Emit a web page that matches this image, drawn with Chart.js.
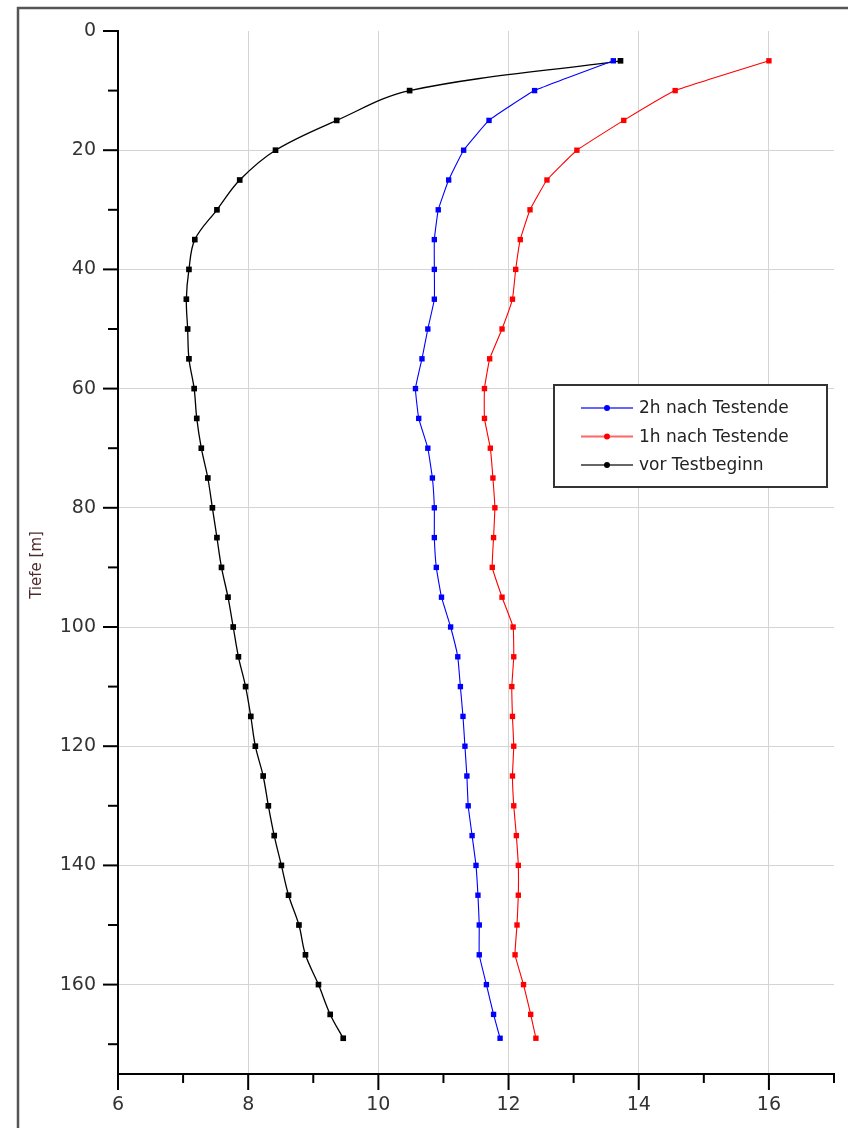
<!DOCTYPE html>
<html>
<head>
<meta charset="utf-8">
<script src="https://cdn.jsdelivr.net/npm/chart.js@4/dist/chart.umd.min.js"></script>
<style>
  html, body { margin: 0; padding: 0; background: #fff; }
  #wrap { width: 848px; height: 1128px; position: relative; }
</style>
</head>
<body>
<div id="wrap"><canvas id="c" width="848" height="1128"></canvas></div>
<script>
// ---- data ----
const depths = [5,10,15,20,25,30,35,40,45,50,55,60,65,70,75,80,85,90,95,100,105,110,115,120,125,130,135,140,145,150,155,160,165,169];
const seriesLabels = ['2h nach Testende', '1h nach Testende', 'vor Testbeginn'];
const temp2hNach = [13.61,12.40,11.70,11.31,11.08,10.92,10.86,10.86,10.86,10.76,10.67,10.57,10.62,10.76,10.83,10.86,10.86,10.89,10.97,11.11,11.22,11.26,11.30,11.33,11.36,11.38,11.44,11.50,11.53,11.55,11.55,11.66,11.77,11.87];
const temp1hNach = [16.00,14.56,13.77,13.05,12.59,12.33,12.18,12.11,12.06,11.90,11.71,11.63,11.63,11.72,11.76,11.79,11.77,11.75,11.90,12.07,12.08,12.05,12.06,12.08,12.06,12.08,12.12,12.15,12.15,12.13,12.10,12.23,12.34,12.42];
const tempVorTest = [13.72,10.48,9.36,8.42,7.87,7.52,7.18,7.09,7.05,7.07,7.09,7.17,7.21,7.28,7.38,7.45,7.52,7.59,7.69,7.77,7.85,7.96,8.04,8.11,8.23,8.31,8.40,8.51,8.62,8.78,8.88,9.08,9.26,9.46];
const xTickLabels = [6,8,10,12,14,16];
const yTickLabels = [0,20,40,60,80,100,120,140,160];
const yTitle = 'Tiefe [m]';

const toPts = arr => arr.map((v, i) => ({ x: v, y: depths[i] }));
const colors = ['#0000ff', '#ff0000', '#000000'];
const series = [temp2hNach, temp1hNach, tempVorTest];

const datasets = series.map((s, i) => ({
  label: seriesLabels[i],
  data: toPts(s),
  showLine: true,
  borderColor: colors[i],
  backgroundColor: colors[i],
  borderWidth: i === 2 ? 1.3 : 1.1,
  pointStyle: 'rect',
  pointRadius: i === 2 ? 4 : 3.8,
  pointBorderWidth: 0,
  tension: i === 2 ? 0.35 : 0.1
}));

const FONT = '"DejaVu Sans", "Liberation Sans", sans-serif';

const decor = {
  id: 'decor',
  beforeDraw(chart) {
    const ctx = chart.ctx;
    ctx.save();
    ctx.fillStyle = '#fff';
    ctx.fillRect(0, 0, chart.width, chart.height);
    ctx.strokeStyle = '#555';
    ctx.lineWidth = 2.5;
    ctx.strokeRect(18, 8, 1000, 1300);
    ctx.restore();
  },
  afterDraw(chart) {
    const ctx = chart.ctx;
    const xs = chart.scales.x, ys = chart.scales.y;
    const area = chart.chartArea;
    ctx.save();
    // tick marks
    ctx.strokeStyle = '#000';
    ctx.lineWidth = 2;
    for (let v = 6; v <= 17; v++) {
      const px = xs.getPixelForValue(v);
      const len = (v % 2 === 0) ? 16 : 9;
      ctx.beginPath();
      ctx.moveTo(px, area.bottom);
      ctx.lineTo(px, area.bottom + len);
      ctx.stroke();
    }
    for (let v = 0; v <= 170; v += 10) {
      const py = ys.getPixelForValue(v);
      const len = (v % 20 === 0) ? 15 : 10;
      ctx.beginPath();
      ctx.moveTo(area.left - len, py);
      ctx.lineTo(area.left, py);
      ctx.stroke();
    }
    // y axis title
    ctx.save();
    ctx.translate(37, 565);
    ctx.rotate(-Math.PI / 2);
    ctx.fillStyle = '#4d2b2b';
    ctx.font = '15px ' + FONT;
    ctx.textAlign = 'center';
    ctx.textBaseline = 'middle';
    ctx.fillText(yTitle, 0, 0);
    ctx.restore();
    // legend box
    const bx = 554, by = 385, bw = 273, bh = 102;
    ctx.fillStyle = '#fff';
    ctx.fillRect(bx, by, bw, bh);
    ctx.strokeStyle = '#333';
    ctx.lineWidth = 2;
    ctx.strokeRect(bx, by, bw, bh);
    chart.data.datasets.forEach((ds, i) => {
      const ly = 408 + 28.5 * i;
      ctx.save();
      ctx.globalAlpha = 0.6;
      ctx.strokeStyle = ds.borderColor;
      ctx.lineWidth = 2.2;
      ctx.beginPath();
      ctx.moveTo(581, ly);
      ctx.lineTo(633, ly);
      ctx.stroke();
      ctx.restore();
      ctx.fillStyle = ds.borderColor;
      ctx.beginPath();
      ctx.arc(607, ly, 3, 0, Math.PI * 2);
      ctx.fill();
      ctx.fillStyle = '#222';
      ctx.font = '17px ' + FONT;
      ctx.textAlign = 'left';
      ctx.textBaseline = 'middle';
      ctx.fillText(ds.label, 639, ly + 1);
    });
    ctx.restore();
  }
};

new Chart(document.getElementById('c'), {
  type: 'scatter',
  data: { datasets },
  options: {
    responsive: false,
    animation: false,
    devicePixelRatio: 1,
    layout: { padding: { left: 0, top: 31, right: 14, bottom: 0 } },
    plugins: { legend: { display: false }, tooltip: { enabled: false } },
    scales: {
      x: {
        type: 'linear',
        position: 'bottom',
        min: 6, max: 17,
        afterFit: s => { s.height = 54; s.paddingLeft = 0; s.paddingRight = 0; },
        afterBuildTicks: s => { s.ticks = []; for (let v = 6; v <= 17; v++) s.ticks.push({ value: v }); },
        ticks: {
          autoSkip: false,
          maxRotation: 0,
          padding: 20,
          color: '#333',
          font: { family: FONT, size: 19 },
          callback: v => xTickLabels.includes(v) ? String(v) : ''
        },
        grid: {
          drawTicks: false,
          lineWidth: 1,
          color: c => (c.tick && xTickLabels.includes(c.tick.value) && c.tick.value > 6) ? '#d4d4d4' : 'rgba(0,0,0,0)'
        },
        border: { display: true, color: '#000', width: 2 }
      },
      y: {
        type: 'linear',
        position: 'left',
        reverse: true,
        min: 0, max: 175,
        afterFit: s => { s.width = 118; s.paddingTop = 0; s.paddingBottom = 0; },
        afterBuildTicks: s => { s.ticks = yTickLabels.map(v => ({ value: v })); },
        ticks: {
          autoSkip: false,
          padding: 22,
          color: '#333',
          font: { family: FONT, size: 19 },
          callback: v => String(v)
        },
        grid: {
          drawTicks: false,
          lineWidth: 1,
          color: c => (c.tick && c.tick.value > 0) ? '#d4d4d4' : 'rgba(0,0,0,0)'
        },
        border: { display: true, color: '#000', width: 2 }
      }
    }
  },
  plugins: [decor]
});
</script>
</body>
</html>
